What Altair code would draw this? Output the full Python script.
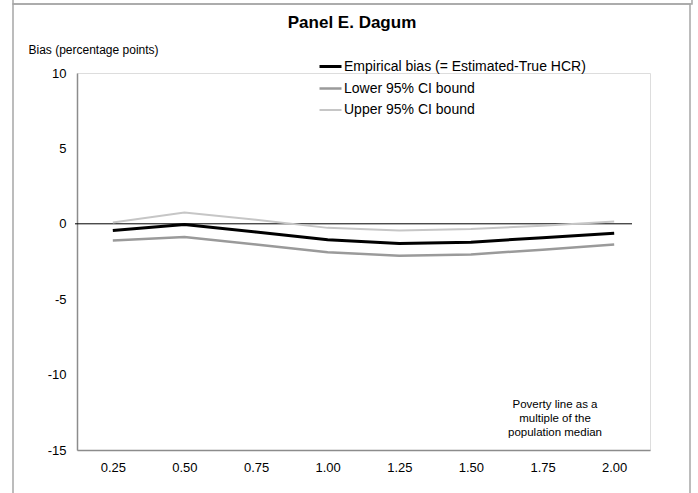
import altair as alt
import pandas as pd

x_labels = ["0.25", "0.50", "0.75", "1.00", "1.25", "1.50", "1.75", "2.00"]
bias = [-0.45, -0.05, -0.55, -1.05, -1.30, -1.22, -0.92, -0.62]
lower = [-1.10, -0.88, -1.37, -1.88, -2.12, -2.03, -1.72, -1.37]
upper = [0.09, 0.75, 0.27, -0.27, -0.44, -0.35, -0.13, 0.15]
series = ["Empirical bias (= Estimated-True HCR)", "Lower 95% CI bound", "Upper 95% CI bound"]
colors = ["#000000", "#9a9a9a", "#c6c6c6"]
widths = [3, 2, 2]
y_ticks = [-15, -10, -5, 0, 5, 10]
title_text = "Panel E. Dagum"
note_text = "Poverty line as a\nmultiple of the\npopulation median"

rows = []
for name, vals in zip(series, [bias, lower, upper]):
    for xl, v in zip(x_labels, vals):
        rows.append({"x": xl, "value": v, "series": name})
df = pd.DataFrame(rows)
one = pd.DataFrame({"k": [0]})

FONT = "Liberation Sans"

legend = alt.Legend(
    title=None, orient="none", legendX=241, legendY=-19,
    symbolType="stroke", symbolSize=484, labelFontSize=14, labelFont=FONT,
    labelColor="#000000", labelOffset=1, rowPadding=2, padding=0, labelLimit=0,
)

lines = alt.Chart(df).mark_line().encode(
    x=alt.X("x:O", sort=x_labels, title=None,
            axis=alt.Axis(labelAngle=0, ticks=False, domainColor="#8c8c8c", domainWidth=1.5,
                          labelFontSize=13, labelFont=FONT, labelColor="#000000", labelPadding=11)),
    y=alt.Y("value:Q", scale=alt.Scale(domain=[-15, 10], nice=False, zero=False),
            axis=alt.Axis(values=y_ticks, ticks=False, grid=False, domainColor="#8c8c8c", domainWidth=1.5,
                          labelExpr="datum.value + ''",
                          labelFontSize=13, labelFont=FONT, labelColor="#000000", labelPadding=11,
                          title="Bias (percentage points)", titleAngle=0, titleAlign="left",
                          titleBaseline="middle", titleX=-49, titleY=-24, titleFontSize=12,
                          titleFont=FONT, titleFontWeight="normal", titleColor="#000000")),
    color=alt.Color("series:N", sort=series, scale=alt.Scale(domain=series, range=colors), legend=legend),
    strokeWidth=alt.StrokeWidth("series:N", sort=series, scale=alt.Scale(domain=series, range=widths), legend=legend),
    order=alt.Order("series:N", sort="descending"),
)

zero = alt.Chart(one).mark_rule(color="#000000", strokeWidth=1).encode(
    y=alt.datum(0), x=alt.value(-2), x2=alt.value(555)
)

prev_frame = alt.Chart(one).mark_rect(fill=None, stroke="#a6a6a6", strokeWidth=1.5).encode(
    x=alt.value(-64), x2=alt.value(615), y=alt.value(-200), y2=alt.value(-69)
)
frame = alt.Chart(one).mark_rect(fill=None, stroke="#a6a6a6", strokeWidth=1.5).encode(
    x=alt.value(-64), x2=alt.value(613), y=alt.value(-69), y2=alt.value(600)
)

title = alt.Chart(one).mark_text(
    text=title_text, fontSize=17, font=FONT, fontWeight="bold", align="center",
    baseline="middle", color="#000000"
).encode(x=alt.value(275), y=alt.value(-50))

note = alt.Chart(one).mark_text(
    text=note_text, lineBreak="\n",
    fontSize=11.5, font=FONT, align="center", baseline="middle", lineHeight=14, color="#000000"
).encode(x=alt.value(478), y=alt.value(332))

chart = alt.layer(prev_frame, frame, zero, lines, title, note).properties(
    width=573, height=377,
    autosize=alt.AutoSizeParams(type="none"),
    padding={"left": 77, "top": 73, "right": 48, "bottom": 43},
).configure_view(stroke=None).configure(background="#ffffff")

chart.save("out.html", embed_options={"renderer": "svg", "actions": False})
